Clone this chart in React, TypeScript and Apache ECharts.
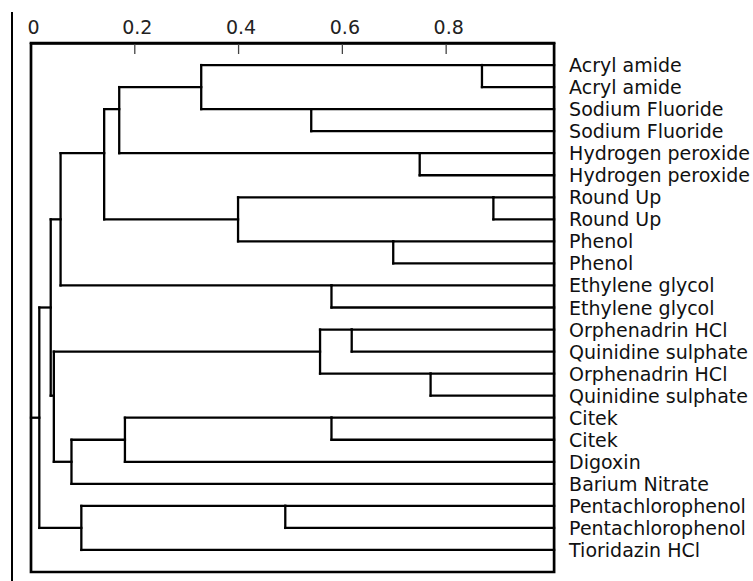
import React, { useEffect, useRef } from "react";
import * as echarts from "echarts";

// Leaf labels (top to bottom)
const leafLabels = [
  "Acryl amide",
  "Acryl amide",
  "Sodium Fluoride",
  "Sodium Fluoride",
  "Hydrogen peroxide",
  "Hydrogen peroxide",
  "Round Up",
  "Round Up",
  "Phenol",
  "Phenol",
  "Ethylene glycol",
  "Ethylene glycol",
  "Orphenadrin HCl",
  "Quinidine sulphate",
  "Orphenadrin HCl",
  "Quinidine sulphate",
  "Citek",
  "Citek",
  "Digoxin",
  "Barium Nitrate",
  "Pentachlorophenol",
  "Pentachlorophenol",
  "Tioridazin HCl",
];

// Linkage: node ids 0..22 are leaves, merge i creates node 23+i
const mergeLeft = [0, 2, 4, 6, 8, 10, 12, 14, 16, 20, 23, 33, 26, 34, 36, 29, 31, 39, 38, 37, 32, 42];
const mergeRight = [1, 3, 5, 7, 9, 11, 13, 15, 17, 21, 24, 25, 27, 35, 28, 30, 18, 19, 40, 41, 22, 43];
const mergeHeight = [
  0.869, 0.54, 0.749, 0.891, 0.698, 0.579, 0.618, 0.77, 0.579, 0.49, 0.328, 0.17, 0.399, 0.141, 0.057,
  0.557, 0.181, 0.078, 0.044, 0.038, 0.097, 0.016,
];

// Axis tick marks drawn inside the frame
const xTickValues = [0.2, 0.4, 0.6, 0.8];
const xMax = 1.008;
const yMin = -1;
const yMax = 23;

function buildSegments() {
  const n = leafLabels.length;
  const total = n + mergeLeft.length;
  const yPos: number[] = new Array(total).fill(0);
  const xPos: number[] = new Array(total).fill(xMax);
  const parent: number[] = new Array(total).fill(-1);
  for (let i = 0; i < n; i++) yPos[i] = i;
  for (let i = 0; i < mergeLeft.length; i++) {
    const id = n + i;
    const a = mergeLeft[i];
    const b = mergeRight[i];
    xPos[id] = mergeHeight[i];
    yPos[id] = Math.floor((yPos[a] + yPos[b]) / 2);
    parent[a] = id;
    parent[b] = id;
  }
  const segs: number[][] = [];
  for (let id = 0; id < total; id++) {
    const p = parent[id];
    const xEnd = p >= 0 ? xPos[p] : 0;
    segs.push([xPos[id], yPos[id], xEnd, yPos[id]]);
  }
  for (let i = 0; i < mergeLeft.length; i++) {
    const a = mergeLeft[i];
    const b = mergeRight[i];
    segs.push([mergeHeight[i], yPos[a], mergeHeight[i], yPos[b]]);
  }
  return segs;
}

export default function App() {
  const ref = useRef<HTMLDivElement>(null);
  useEffect(() => {
    document.body.style.margin = "0";
    const chart = echarts.init(ref.current!, undefined, { renderer: "svg" });
    const segs = buildSegments();
    const frameLine = {
      type: "line",
      shape: { x1: 12, y1: 12, x2: 12, y2: 581 },
      style: { stroke: "#000", lineWidth: 2 },
    };
    chart.setOption({
      animation: false,
      backgroundColor: "#fff",
      textStyle: { fontFamily: "DejaVu Sans" },
      grid: {
        left: 31,
        top: 43,
        width: 529,
        height: 529,
        show: true,
        borderColor: "#000",
        borderWidth: 2.7,
        backgroundColor: "transparent",
      },
      xAxis: {
        type: "value",
        position: "top",
        min: 0,
        max: xMax,
        interval: 0.2,
        splitLine: { show: false },
        axisLine: { show: true, onZero: false, lineStyle: { color: "#000", width: 2.7 } },
        axisTick: { show: false },
        axisLabel: {
          show: true,
          margin: 7,
          fontSize: 19,
          color: "#222",
          fontFamily: "DejaVu Sans",
          padding: [0, 0, 0, 5],
          formatter: (v: number) => (v > 0.9 ? "" : String(+v.toFixed(1))),
        },
      },
      yAxis: {
        type: "value",
        position: "right",
        inverse: true,
        min: yMin,
        max: yMax,
        interval: 1,
        splitLine: { show: false },
        axisLine: { show: false, onZero: false },
        axisTick: { show: false },
        axisLabel: {
          margin: 15,
          fontSize: 19,
          color: "#111",
          fontFamily: "DejaVu Sans",
          align: "left",
          formatter: (v: number) => leafLabels[Math.round(v)] ?? "",
        },
      },
      graphic: [frameLine],
      series: [
        {
          type: "custom",
          clip: false,
          data: segs,
          encode: { x: [0, 2], y: [1, 3] },
          renderItem: (params: any, api: any) => {
            const p1 = api.coord([api.value(0), api.value(1)]);
            const p2 = api.coord([api.value(2), api.value(3)]);
            return {
              type: "line",
              shape: { x1: p1[0], y1: p1[1], x2: p2[0], y2: p2[1] },
              style: { stroke: "#000", lineWidth: 2.3, lineCap: "square" },
            };
          },
        },
      ],
    });
    // inside tick marks placed through the chart's own scale
    const ticks = xTickValues.map((v) => {
      const p = chart.convertToPixel({ gridIndex: 0 }, [v, yMin]) as number[];
      return {
        type: "line",
        z: 100,
        shape: { x1: p[0], y1: p[1] + 1, x2: p[0], y2: p[1] + 11 },
        style: { stroke: "#444", lineWidth: 1.3 },
      };
    });
    chart.setOption({ graphic: [frameLine, ...ticks] });
    return () => chart.dispose();
  }, []);
  return <div ref={ref} style={{ width: 753, height: 581 }} />;
}
